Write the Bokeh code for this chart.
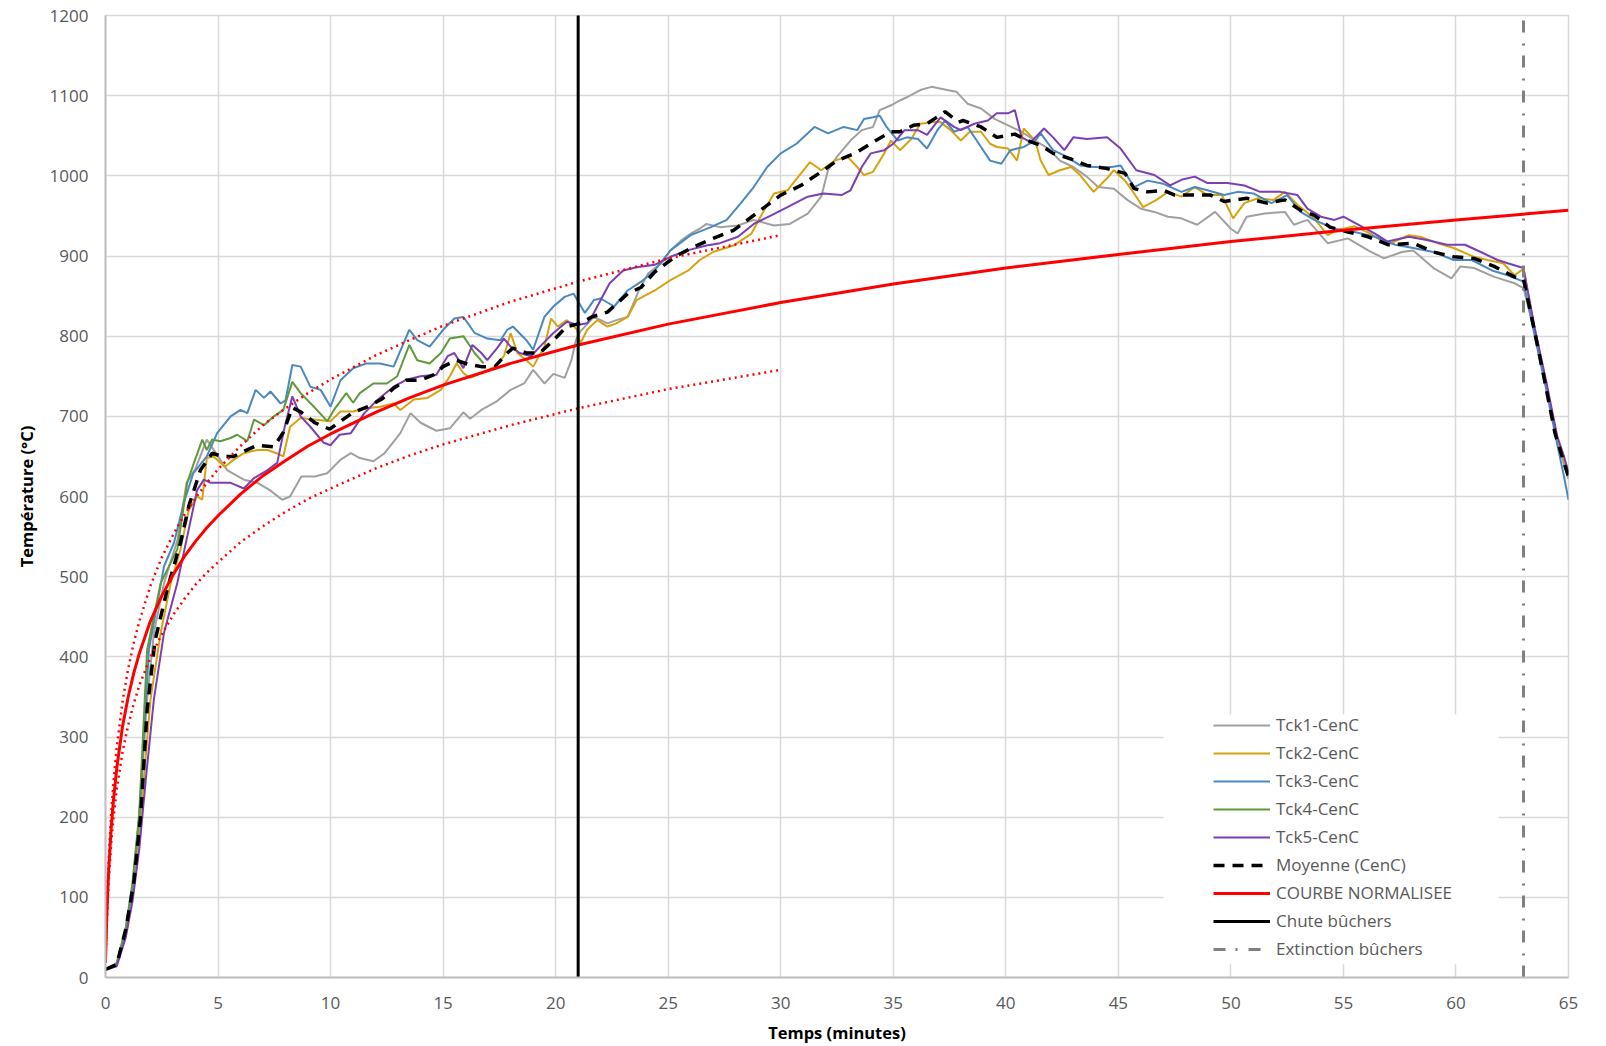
from bokeh.plotting import figure
from bokeh.models import Legend, LegendItem, BoxAnnotation, Range1d, FixedTicker
from bokeh.embed import file_html
from bokeh.resources import INLINE
import math

# ---------------- data (time in minutes, temperature in degC)
tck1 = [(0, 10), (0.5, 18), (0.9, 60), (1.2, 115), (1.5, 200), (1.85, 347), (2.15, 430), (2.6, 492),
        (3.2, 546), (3.6, 617), (4.0, 635), (4.5, 671), (5.0, 650), (5.4, 633), (6.15, 621), (6.75, 617),
        (7.3, 608), (7.85, 596), (8.2, 600), (8.7, 625), (9.3, 625), (9.85, 629), (10.45, 646), (10.9, 654),
        (11.3, 648), (11.9, 644), (12.4, 654), (13.1, 679), (13.55, 704), (14.0, 692), (14.7, 682),
        (15.3, 685), (15.9, 705), (16.2, 697), (16.7, 708), (17.4, 719), (18.0, 733), (18.6, 741),
        (19.0, 758), (19.5, 741), (19.9, 753), (20.4, 748), (20.7, 770), (20.9, 795), (21.1, 806),
        (21.7, 824), (22.3, 816), (22.7, 820), (23.2, 824), (23.7, 857), (24.1, 878), (24.7, 891),
        (25.1, 907), (25.6, 920), (26.0, 928), (26.4, 934), (26.7, 940), (27.3, 936), (28.1, 938),
        (28.8, 945), (29.7, 938), (30.4, 940), (31.2, 953), (31.8, 974), (32.1, 1007), (32.5, 1024),
        (33.1, 1044), (33.6, 1057), (34.1, 1061), (34.4, 1082), (34.9, 1088), (35.3, 1094), (35.6, 1098),
        (36.2, 1107), (36.7, 1111), (37.4, 1107), (37.8, 1105), (38.3, 1090), (38.9, 1084), (39.5, 1071),
        (40.1, 1063), (40.7, 1055), (41.3, 1044), (41.9, 1034), (42.4, 1019), (43.0, 1011), (43.6, 999),
        (44.1, 986), (44.8, 984), (45.4, 970), (46.0, 959), (46.6, 955), (47.2, 949), (47.8, 947),
        (48.5, 939), (49.3, 955), (50.0, 934), (50.3, 928), (50.7, 949), (51.5, 953), (52.4, 955),
        (52.8, 939), (53.4, 945), (54.3, 916), (55.2, 922), (56.1, 907), (56.8, 897), (57.6, 905),
        (58.1, 907), (59.0, 885), (59.8, 872), (60.2, 887), (60.8, 885), (61.7, 874), (62.6, 866),
        (63.0, 860), (63.5, 805), (64.0, 740), (64.5, 672), (64.8, 640), (65.0, 622)]

tck2 = [(0, 10), (0.5, 16), (0.9, 55), (1.2, 105), (1.5, 180), (2.0, 347), (2.45, 430), (2.9, 492),
        (3.33, 534), (3.7, 583), (4.07, 600), (4.3, 596), (4.5, 648), (4.8, 650), (5.3, 637), (5.7, 646),
        (6.15, 654), (6.75, 658), (7.2, 658), (7.6, 654), (7.9, 650), (8.2, 687), (8.67, 698), (9.26, 696),
        (10.0, 694), (10.44, 706), (11.0, 706), (11.6, 710), (12.2, 712), (12.8, 716), (13.1, 708),
        (13.7, 721), (14.3, 723), (14.9, 733), (15.3, 750), (15.6, 766), (15.9, 754), (16.2, 748),
        (16.7, 754), (17.3, 762), (17.7, 775), (18.0, 804), (18.3, 779), (18.7, 770), (19.0, 762),
        (19.5, 787), (19.8, 822), (20.1, 812), (20.5, 820), (20.96, 808), (21.1, 791), (21.4, 808),
        (21.85, 820), (22.3, 812), (22.7, 816), (23.2, 824), (23.6, 845), (24.4, 857), (25.1, 870),
        (25.9, 882), (26.4, 895), (27.0, 905), (27.9, 913), (28.7, 928), (29.1, 949), (29.7, 978),
        (30.3, 982), (30.9, 1003), (31.3, 1017), (31.8, 1007), (32.4, 1019), (32.96, 1024), (33.4, 1011),
        (33.7, 1001), (34.1, 1005), (34.6, 1028), (34.9, 1044), (35.3, 1032), (35.8, 1046), (36.2, 1065),
        (36.8, 1067), (37.1, 1067), (37.55, 1057), (38.0, 1044), (38.4, 1055), (38.9, 1055), (39.3, 1040),
        (39.6, 1036), (40.1, 1034), (40.5, 1019), (40.8, 1059), (41.3, 1044), (41.55, 1019), (41.9, 1001),
        (42.4, 1007), (42.9, 1011), (43.3, 1001), (43.9, 980), (44.5, 997), (44.8, 1007), (45.3, 994),
        (45.7, 978), (46.1, 961), (46.7, 970), (47.2, 980), (47.8, 974), (48.4, 986), (48.96, 976),
        (49.6, 976), (50.1, 947), (50.6, 966), (51.2, 972), (51.9, 970), (52.4, 980), (52.96, 964),
        (53.7, 947), (54.3, 926), (54.7, 932), (55.5, 937), (56.2, 928), (56.96, 914), (57.9, 926),
        (58.4, 924), (59.2, 916), (59.9, 910), (60.8, 899), (61.4, 895), (62.1, 891), (62.6, 876),
        (63.0, 884), (63.5, 808), (64.0, 742), (64.5, 672), (64.8, 645), (65.0, 633)]

tck3 = [(0, 10), (0.5, 17), (0.9, 58), (1.2, 112), (1.5, 200), (1.93, 409), (2.6, 513), (3.04, 542),
        (3.48, 592), (3.9, 629), (4.5, 650), (4.96, 679), (5.56, 700), (6.0, 708), (6.3, 704), (6.67, 733),
        (7.04, 723), (7.33, 731), (7.78, 716), (8.0, 720), (8.3, 764), (8.67, 762), (9.1, 737), (9.56, 733),
        (10.0, 712), (10.44, 745), (11.0, 760), (11.6, 766), (12.2, 766), (12.8, 762), (13.5, 808),
        (13.85, 795), (14.4, 787), (15.0, 808), (15.5, 822), (15.9, 824), (16.4, 804), (16.96, 797),
        (17.55, 795), (17.85, 808), (18.1, 812), (18.7, 795), (19.0, 783), (19.5, 824), (19.9, 837),
        (20.4, 849), (20.8, 853), (21.3, 829), (21.7, 845), (22.0, 847), (22.6, 837), (23.2, 857),
        (23.8, 868), (24.4, 882), (25.1, 907), (26.0, 926), (26.9, 936), (27.6, 945), (28.2, 965),
        (28.8, 986), (29.4, 1011), (30.0, 1028), (30.7, 1040), (31.5, 1061), (32.1, 1053), (32.8, 1061),
        (33.4, 1057), (33.7, 1071), (34.1, 1073), (34.4, 1075), (34.7, 1061), (35.2, 1044), (35.6, 1048),
        (36.1, 1046), (36.5, 1034), (36.96, 1057), (37.3, 1069), (37.7, 1055), (38.3, 1061), (38.9, 1036),
        (39.3, 1019), (39.8, 1015), (40.2, 1032), (40.8, 1036), (41.3, 1044), (41.55, 1053), (42.1, 1032),
        (42.7, 1024), (43.3, 1013), (43.9, 1011), (44.7, 1011), (45.1, 1013), (45.7, 986), (46.3, 994),
        (47.0, 990), (47.8, 980), (48.4, 986), (48.96, 982), (49.7, 976), (50.3, 980), (51.0, 978),
        (51.8, 966), (52.5, 976), (53.1, 955), (53.7, 945), (54.6, 934), (55.5, 930), (56.4, 924),
        (57.3, 914), (58.1, 910), (59.0, 905), (59.9, 895), (60.7, 895), (61.6, 882), (62.3, 876),
        (63.0, 868), (63.5, 800), (64.0, 735), (64.5, 665), (64.8, 625), (65.0, 596)]

tck4 = [(0, 10), (0.5, 18), (0.9, 62), (1.2, 118), (1.5, 205), (1.85, 409), (2.45, 492), (3.19, 534),
        (3.63, 617), (3.93, 642), (4.3, 671), (4.5, 658), (4.74, 671), (5.1, 669), (5.56, 673),
        (5.85, 677), (6.3, 669), (6.6, 696), (7.04, 689), (7.48, 700), (7.9, 708), (8.3, 743), (8.67, 729),
        (9.26, 712), (9.85, 694), (10.15, 708), (10.7, 729), (11.0, 717), (11.3, 729), (11.9, 741),
        (12.5, 741), (12.96, 750), (13.5, 789), (13.85, 770), (14.4, 766), (14.9, 779), (15.3, 797),
        (15.9, 800), (16.4, 779), (16.8, 766)]

tck5 = [(0, 10), (0.5, 14), (0.9, 50), (1.2, 95), (1.5, 160), (1.8, 250), (2.15, 347), (2.6, 430),
        (3.19, 492), (3.63, 550), (4.07, 608), (4.37, 621), (4.67, 617), (5.1, 617), (5.56, 617),
        (6.15, 610), (6.6, 623), (7.2, 633), (7.63, 642), (7.93, 683), (8.3, 725), (8.67, 700), (9.1, 687),
        (9.7, 667), (10.0, 664), (10.4, 677), (10.9, 679), (11.5, 704), (12.1, 721), (12.8, 737),
        (13.4, 746), (14.0, 750), (14.7, 752), (15.2, 775), (15.5, 779), (15.9, 760), (16.3, 789),
        (16.7, 779), (16.96, 770), (17.4, 785), (17.7, 797), (18.0, 787), (18.4, 779), (18.9, 775),
        (19.3, 787), (19.9, 804), (20.5, 818), (20.96, 814), (21.4, 816), (21.6, 824), (22.0, 845),
        (22.4, 866), (23.0, 882), (23.6, 886), (24.4, 889), (25.1, 899), (25.85, 907), (26.7, 913),
        (27.3, 916), (28.1, 924), (28.8, 940), (29.6, 951), (30.3, 961), (31.2, 974), (31.9, 978),
        (32.7, 976), (33.1, 982), (33.6, 1011), (34.0, 1028), (34.6, 1032), (35.0, 1040), (35.5, 1057),
        (36.1, 1057), (36.5, 1051), (37.1, 1073), (37.7, 1061), (38.0, 1057), (38.6, 1065), (39.2, 1069),
        (39.6, 1078), (40.1, 1078), (40.4, 1082), (40.7, 1048), (41.1, 1042), (41.7, 1059), (42.1, 1048),
        (42.6, 1032), (43.0, 1048), (43.6, 1046), (44.5, 1048), (45.1, 1034), (45.8, 1007), (46.6, 1001),
        (47.3, 988), (47.8, 995), (48.4, 999), (48.96, 991), (49.85, 991), (50.6, 988), (51.3, 980),
        (52.2, 980), (52.96, 976), (53.4, 959), (54.0, 949), (54.6, 945), (55.0, 949), (55.8, 937),
        (56.4, 928), (56.96, 918), (57.9, 924), (58.7, 920), (59.6, 914), (60.4, 914), (61.1, 905),
        (61.85, 895), (62.3, 891), (63.0, 885), (63.5, 810), (64.0, 745), (64.5, 675), (64.8, 650),
        (65.0, 630)]

moyenne = [(0, 10), (0.5, 16), (0.9, 60), (1.26, 119), (1.56, 201), (1.85, 334), (2.2, 420), (2.74, 484),
           (3.33, 542), (3.7, 588), (4.22, 633), (4.74, 654), (5.2, 650), (5.7, 650), (6.2, 657),
           (6.74, 664), (7.48, 662), (7.9, 680), (8.3, 711), (8.7, 705), (9.3, 692), (9.96, 684),
           (10.5, 695), (11.0, 705), (11.66, 712), (12.3, 722), (12.8, 735), (13.36, 745), (14.0, 745),
           (14.6, 752), (15.0, 762), (15.57, 770), (16.1, 765), (16.7, 762), (17.3, 762), (17.85, 779),
           (18.1, 785), (18.7, 779), (19.3, 779), (19.9, 795), (20.5, 812), (21.1, 816), (21.6, 824),
           (22.3, 830), (23.2, 853), (23.8, 861), (24.4, 880), (25.3, 899), (26.1, 911), (27.0, 922),
           (27.9, 932), (29.1, 957), (30.0, 976), (30.9, 988), (31.8, 1005), (32.5, 1019), (33.3, 1028),
           (34.1, 1042), (34.9, 1055), (35.3, 1055), (35.9, 1063), (36.5, 1065), (37.3, 1080), (37.9, 1067),
           (38.1, 1069), (38.9, 1061), (39.6, 1048), (40.4, 1052), (40.96, 1044), (41.55, 1038),
           (42.1, 1028), (42.9, 1021), (43.6, 1013), (44.5, 1009), (45.3, 1003), (45.7, 984), (46.3, 980),
           (47.0, 982), (47.5, 976), (48.4, 976), (49.1, 976), (49.7, 968), (50.7, 972), (51.6, 966),
           (52.4, 970), (53.1, 957), (53.7, 951), (54.4, 936), (55.2, 930), (56.1, 924), (57.0, 914),
           (58.1, 916), (59.0, 905), (59.9, 899), (60.8, 897), (61.7, 887), (62.6, 874), (63.0, 871),
           (63.48, 808), (63.9, 750), (64.4, 679), (64.8, 642), (65.0, 625)]

# standard fire curve (COURBE NORMALISEE) and its dotted tolerance band
courbe_t = [0, 0.05, 0.1, 0.15, 0.25, 0.35, 0.5, 0.75, 1, 1.25, 1.5, 2, 2.5, 3, 3.5, 4, 4.5, 5, 6, 7, 8, 9,
            10, 12, 13.5, 15, 18, 21, 25, 30, 35, 40, 45, 50, 55, 60, 65]
courbe_T = [20, 70, 108, 138, 185, 220, 261, 312, 349, 379, 404, 445, 476, 502, 525, 544, 561, 576, 603,
            626, 645, 663, 678, 705, 723, 739, 766, 789, 815, 842, 865, 885, 902, 918, 932, 945, 957]
bande_t = [0, 0.05, 0.1, 0.15, 0.25, 0.35, 0.5, 0.75, 1, 1.25, 1.5, 2, 2.5, 3, 3.5, 4, 4.5, 5, 6, 7, 8, 9,
           10, 12, 13.5, 15, 18, 21, 25, 30]
bande_haute = [22, 77, 119, 152, 203, 242, 287, 343, 384, 417, 444, 489, 524, 552, 577, 598, 617, 634,
               663, 689, 710, 729, 746, 776, 795, 813, 843, 868, 897, 926]
bande_basse = [18, 63, 97, 124, 166, 198, 235, 280, 314, 341, 364, 400, 428, 452, 472, 490, 505, 518,
               543, 563, 581, 597, 610, 635, 651, 665, 689, 710, 734, 758]

chute_t = [21]          # Chute bûchers
extinction_t = [63]     # Extinction bûchers

x_ticks = list(range(0, 66, 5))
y_ticks = list(range(0, 1201, 100))

FONT = "Open Sans"
GRID = "#d9d9d9"

p = figure(width=1600, height=1046, x_range=Range1d(0, 65), y_range=Range1d(0, 1200),
           output_backend="svg", toolbar_location=None,
           min_border_left=105, min_border_right=32, min_border_top=15, min_border_bottom=68)
p.background_fill_color = "white"
p.border_fill_color = "white"
p.outline_line_color = GRID
p.outline_line_width = 1.5

p.xaxis.ticker = FixedTicker(ticks=x_ticks)
p.yaxis.ticker = FixedTicker(ticks=y_ticks)
p.xgrid.ticker = FixedTicker(ticks=x_ticks)
p.ygrid.ticker = FixedTicker(ticks=y_ticks)
p.grid.grid_line_color = GRID
p.grid.grid_line_width = 1.5

for ax in (p.xaxis, p.yaxis):
    ax.axis_line_color = "#bfbfbf"
    ax.axis_line_width = 2
    ax.major_tick_line_color = None
    ax.minor_tick_line_color = None
    ax.major_tick_out = 0
    ax.major_tick_in = 0
    ax.major_label_text_font = FONT
    ax.major_label_text_font_size = "17px"
    ax.major_label_text_color = "#595959"
    ax.axis_label_text_font = FONT
    ax.axis_label_text_font_size = "16.5px"
    ax.axis_label_text_font_style = "bold"
    ax.axis_label_text_color = "black"

p.xaxis.axis_label = "Temps (minutes)"
p.yaxis.axis_label = "Température (°C)"
p.xaxis.major_label_standoff = 19
p.xaxis.axis_label_standoff = 9
p.yaxis.major_label_standoff = 17
p.yaxis.axis_label_standoff = 9

# white legend background (as in the spreadsheet chart)
p.add_layout(BoxAnnotation(left=47.0, right=61.9, bottom=16.6, top=328,
                           fill_color="white", fill_alpha=1.0, line_alpha=0))


def xy(pairs):
    return [a for a, b in pairs], [b for a, b in pairs]


series = [("Tck1-CenC", tck1, "#a0a0a0"), ("Tck2-CenC", tck2, "#d6a30e"), ("Tck3-CenC", tck3, "#4a89c0"),
          ("Tck4-CenC", tck4, "#5e9a3c"), ("Tck5-CenC", tck5, "#7b3fb3")]
items = []
for name, data, col in series:
    xs, ys = xy(data)
    r = p.line(xs, ys, line_color=col, line_width=2)
    items.append(LegendItem(label=name, renderers=[r]))

xs, ys = xy(moyenne)
r_moy = p.line(xs, ys, line_color="black", line_width=3.5, line_dash="11 8")
items.append(LegendItem(label="Moyenne (CenC)", renderers=[r_moy]))

p.line(bande_t, bande_haute, line_color="red", line_width=2.5, line_dash="2 4")
p.line(bande_t, bande_basse, line_color="red", line_width=2.5, line_dash="2 4")
r_iso = p.line(courbe_t, courbe_T, line_color="red", line_width=3)
items.append(LegendItem(label="COURBE NORMALISEE", renderers=[r_iso]))

r_chute = p.ray(x=chute_t, y=[0] * len(chute_t), length=0, angle=math.pi / 2,
                line_color="black", line_width=3)
items.append(LegendItem(label="Chute bûchers", renderers=[r_chute]))
r_ext = p.ray(x=extinction_t, y=[0] * len(extinction_t), length=0, angle=math.pi / 2,
              line_color="#808080", line_width=3, line_dash="12 10 2 11")
items.append(LegendItem(label="Extinction bûchers", renderers=[r_ext]))

legend = Legend(items=items, location=(1108, 17), padding=0, margin=0,
                background_fill_alpha=0, border_line_alpha=0,
                glyph_width=57, glyph_height=22, label_height=22, spacing=5, label_standoff=6,
                label_text_font=FONT, label_text_font_size="17px", label_text_color="#595959")
p.add_layout(legend)

open("out.html", "w").write(file_html(p, INLINE))
